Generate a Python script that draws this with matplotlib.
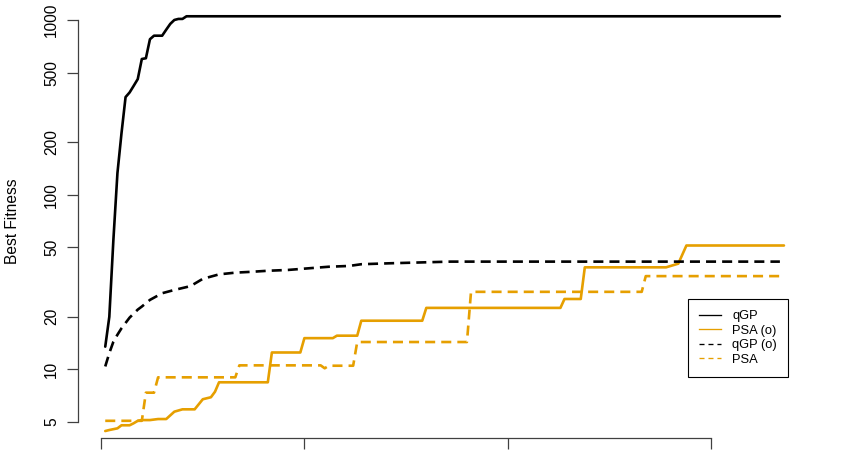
import matplotlib
matplotlib.use("Agg")
import matplotlib.pyplot as plt
from matplotlib.lines import Line2D

plt.rcParams['font.family'] = ['Liberation Sans', 'DejaVu Sans']

# qGP (solid black) - vertices
qgp_x = [1, 2, 3, 4, 5, 6, 7, 8, 9, 10, 11, 12, 13, 15, 16, 17, 18, 19, 20, 21, 167]
qgp_y = [13.5, 20, 55, 133, 225, 362, 385, 420, 459, 598, 604, 776, 813, 813,
         880, 950, 1000, 1014, 1014, 1050, 1050]

# qGP (o) (dashed black)
qgpo_x = [1, 2, 3, 4, 5, 7, 9, 10, 12, 15, 18, 21, 22, 25, 29, 33, 37, 41, 46,
          51, 56, 61, 64, 71, 76, 86, 167]
qgpo_y = [10.4, 12.4, 14.4, 15.8, 17.2, 19.8, 22.0, 22.9, 25.0, 27.3, 28.5, 29.6,
          30.0, 33.0, 35.0, 35.8, 36.2, 36.7, 37.1, 37.9, 38.7, 39.1, 40.0, 40.5,
          40.8, 41.4, 41.4]

# PSA (o) (solid orange)
psao_x = [1, 2, 4, 5, 7, 8, 9, 10, 12, 14, 16, 18, 20, 23, 25, 27, 28, 29, 41, 42,
          49, 50, 57, 58, 63, 64, 79, 80, 113, 114, 118, 119, 139, 142, 144, 168]
psao_y = [4.44, 4.5, 4.6, 4.79, 4.79, 4.92, 5.08, 5.13, 5.13, 5.2, 5.2, 5.73, 5.91,
          5.91, 6.75, 6.93, 7.45, 8.44, 8.44, 12.5, 12.5, 15.1, 15.1, 15.6, 15.6,
          19.0, 19.0, 22.5, 22.5, 25.3, 25.3, 38.4, 38.4, 40.3, 51.2, 51.2]

# PSA (dashed orange)
psa_x = [1, 10, 11, 13, 14, 33, 34, 54, 55, 56, 62, 63, 90, 91, 133, 134, 168]
psa_y = [5.08, 5.08, 7.36, 7.36, 9.01, 9.01, 10.55, 10.55, 10.15, 10.5, 10.5,
         14.35, 14.35, 27.8, 27.8, 34.2, 34.2]

y_ticks = [5, 10, 20, 50, 100, 200, 500, 1000]
x_ticks = [0, 50, 100, 150]
labels = ["qGP", "PSA (o)", "qGP (o)", "PSA"]

orange = "#E69F00"
W, H = 847, 450

fig = plt.figure(figsize=(W / 100, H / 100), dpi=100)
# plot region in pixels (R style 4% padding around the data)
left_px, right_px, top_px, bottom_px = 78.1, 811.1, 3.9, 438.1
ax = fig.add_axes([left_px / W, 1 - bottom_px / H,
                   (right_px - left_px) / W, (bottom_px - top_px) / H])

lw = 1.9
dash = (3.8, 2.3)
ax.plot(qgp_x, qgp_y, color="black", lw=lw, solid_joinstyle="round", solid_capstyle="round")
ax.plot(psao_x, psao_y, color=orange, lw=lw, solid_joinstyle="round", solid_capstyle="round")
ax.plot(qgpo_x, qgpo_y, color="black", lw=lw, linestyle=(0, dash))
ax.plot(psa_x, psa_y, color=orange, lw=lw, linestyle=(0, dash))

ax.set_yscale("log")
ax.set_xlim(1 - 0.04 * 167, 168 + 0.04 * 167)
ax.set_ylim(5 / 10 ** (0.04 * 2.30103), 1000 * 10 ** (0.04 * 2.30103))

ax.set_yticks(y_ticks)
ax.set_yticklabels([str(v) for v in y_ticks])
ax.yaxis.set_minor_locator(matplotlib.ticker.NullLocator())
ax.set_xticks(x_ticks)
ax.tick_params(axis="x", labelbottom=False)

for s in ["top", "right"]:
    ax.spines[s].set_visible(False)
ax.spines["left"].set_bounds(5, 1000)
ax.spines["bottom"].set_bounds(0, 150)
for s in ["left", "bottom"]:
    ax.spines[s].set_color("0.25")
    ax.spines[s].set_linewidth(0.9)

ax.tick_params(axis="both", direction="out", length=7.8, width=0.9, color="0.25",
               labelsize=11.2, pad=6)
for t in ax.get_yticklabels():
    t.set_rotation(90)
    t.set_va("center")

ax.set_ylabel("Best Fitness", fontsize=11.2)
ax.yaxis.set_label_coords(-0.079, 0.5)

handles = [
    Line2D([], [], color="black", lw=0.95),
    Line2D([], [], color=orange, lw=0.95),
    Line2D([], [], color="black", lw=0.95, linestyle=(0, (3.8, 3.0))),
    Line2D([], [], color=orange, lw=0.95, linestyle=(0, (3.8, 3.0))),
]
leg = ax.legend(handles, labels, loc="upper left",
                bbox_to_anchor=(688.3 / W, 1 - 299 / H), bbox_transform=fig.transFigure,
                fontsize=9.3, handlelength=1.7, handletextpad=0.85, borderpad=0.85,
                labelspacing=0.2, borderaxespad=0, fancybox=False, framealpha=1)
leg.get_frame().set_edgecolor("black")
leg.get_frame().set_linewidth(0.8)

fig.savefig("out.png", dpi=100)
